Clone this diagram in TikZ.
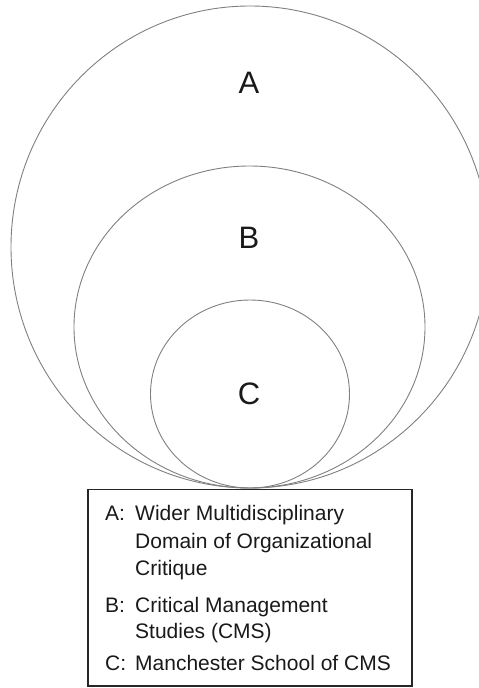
\documentclass[tikz,border=0pt]{standalone}
\usepackage{fontspec}
\setmainfont{Liberation Sans}
\begin{document}
\begin{tikzpicture}[x=1pt,y=-1pt,
  ring/.style={draw=black!50, line width=0.9pt},
  bigletter/.style={font=\fontsize{31}{31}\selectfont, text=black!90, inner sep=0pt},
  keytext/.style={font=\fontsize{21}{21}\selectfont, text=black!90, inner sep=0pt, anchor=base west},
  keybox/.style={draw=black!85, line width=1.1pt}]
\useasboundingbox (0,0) rectangle (479,688);
\begin{scope}
\clip (0,0) rectangle (479,688);
\draw[ring] (250,247) ellipse [x radius=239, y radius=241];
\draw[ring] (249.5,327) ellipse [x radius=175.5, y radius=161];
\draw[ring] (250,394) ellipse [x radius=99.5, y radius=94];
\end{scope}
\node[bigletter] (A) at (249,83) {A};
\node[bigletter] (B) at (249,237.5) {B};
\node[bigletter] (C) at (249,394) {C};
\draw[keybox] (88,489.5) rectangle (412,686);
\node[keytext] (ka) at (105,520) {A:};
\node[keytext] (ka1) at (135,520) {Wider Multidisciplinary};
\node[keytext] (ka2) at (135,548) {Domain of Organizational};
\node[keytext] (ka3) at (135,575) {Critique};
\node[keytext] (kb) at (105,612) {B:};
\node[keytext] (kb1) at (135,612) {Critical Management};
\node[keytext] (kb2) at (135,638.5) {Studies (CMS)};
\node[keytext] (kc) at (105,670) {C:};
\node[keytext] (kc1) at (135,670) {Manchester School of CMS};
\end{tikzpicture}
\end{document}
